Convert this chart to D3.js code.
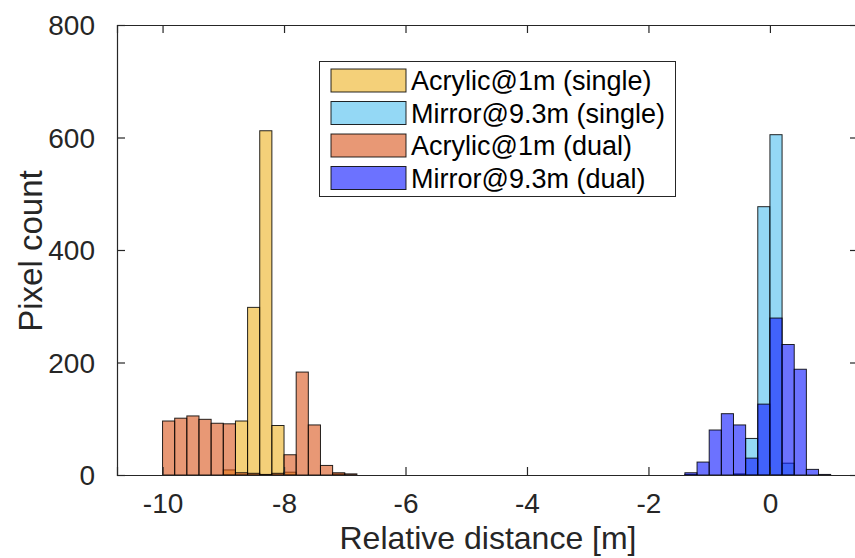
<!DOCTYPE html>
<html>
<head>
<meta charset="utf-8">
<script src="https://cdn.jsdelivr.net/npm/d3@7"></script>
<style>
  html, body { margin: 0; padding: 0; background: #fff; overflow: hidden; }
  text { font-family: Arial, "Liberation Sans", sans-serif; fill: #262626; }
</style>
</head>
<body>
<script>
// bin width of the histograms [m]
const binWidth = 0.2;

// left edges of the bins, with counts per series
const acrylicSingleBins = [-9.0, -8.8, -8.6, -8.4, -8.2, -8.0, -7.2];
const acrylicSingleCounts = [9, 96, 298, 612, 88, 5, 2];

const mirrorSingleBins = [-1.4, -0.6, -0.4, -0.2, 0.0, 0.2];
const mirrorSingleCounts = [1, 2, 65, 477, 605, 21];

const acrylicDualBins = [-10.0, -9.8, -9.6, -9.4, -9.2, -9.0, -8.8, -8.6, -8.4, -8.2, -8.0, -7.8, -7.6, -7.4, -7.2, -7.0];
const acrylicDualCounts = [96, 101, 105, 99, 92, 91, 4, 3, 1, 3, 36, 183, 89, 17, 4, 2];

const mirrorDualBins = [-1.4, -1.2, -1.0, -0.8, -0.6, -0.4, -0.2, 0.0, 0.2, 0.4, 0.6, 0.8];
const mirrorDualCounts = [4, 23, 80, 109, 89, 30, 126, 279, 232, 188, 10, 1];

const seriesNames = ["Acrylic@1m (single)", "Mirror@9.3m (single)", "Acrylic@1m (dual)", "Mirror@9.3m (dual)"];
const seriesColors = ["#edb120", "#4dbeee", "#d95319", "#0a14ff"];

const xTicks = [-10, -8, -6, -4, -2, 0];
const yTicks = [0, 200, 400, 600, 800];

// chart setup
const w = 855, h = 558;
const plot = { left: 117, right: 858, top: 25, bottom: 475 };

const svg = d3.select("body").append("svg")
    .attr("width", w)
    .attr("height", h);

const xScale = d3.scaleLinear()
    .domain([-10.75, 1.45])
    .range([plot.left, plot.right]);

const yScale = d3.scaleLinear()
    .domain([0, 800])
    .range([plot.bottom, plot.top]);

// bars, drawn in legend order with MATLAB style face alpha
const series = [
    [acrylicSingleBins, acrylicSingleCounts],
    [mirrorSingleBins, mirrorSingleCounts],
    [acrylicDualBins, acrylicDualCounts],
    [mirrorDualBins, mirrorDualCounts]
];

series.forEach(function (s, k) {
    const data = s[0].map((b, i) => ({ x0: b, x1: b + binWidth, n: s[1][i] }));
    svg.append("g")
        .selectAll("rect")
        .data(data)
        .enter()
        .append("rect")
        .attr("x", d => xScale(d.x0))
        .attr("y", d => yScale(d.n))
        .attr("width", d => xScale(d.x1) - xScale(d.x0))
        .attr("height", d => yScale(0) - yScale(d.n))
        .attr("fill", seriesColors[k])
        .attr("fill-opacity", 0.6)
        .attr("stroke", "#000")
        .attr("stroke-opacity", 0.85)
        .attr("stroke-width", 1);
});

// axes (ticks inward, box on)
const tickLen = 8;
const xAxis = d3.axisBottom(xScale).tickValues(xTicks).tickSize(-tickLen).tickPadding(18)
    .tickFormat(d => d < 0 ? "-" + Math.abs(d) : d);
const yAxis = d3.axisLeft(yScale).tickValues(yTicks).tickSize(-tickLen).tickPadding(22);

const xAxisG = svg.append("g")
    .attr("transform", `translate(0,${plot.bottom})`)
    .call(xAxis);
const yAxisG = svg.append("g")
    .attr("transform", `translate(${plot.left},0)`)
    .call(yAxis);
const xTopG = svg.append("g")
    .attr("transform", `translate(0,${plot.top})`)
    .call(d3.axisTop(xScale).tickValues(xTicks).tickSize(-tickLen).tickFormat(""));
const yRightG = svg.append("g")
    .attr("transform", `translate(${plot.right},0)`)
    .call(d3.axisRight(yScale).tickValues(yTicks).tickSize(-tickLen).tickFormat(""));

[xAxisG, yAxisG, xTopG, yRightG].forEach(function (g) {
    g.select(".domain").attr("stroke", "#262626").attr("stroke-width", 1.2);
    g.selectAll(".tick line").attr("stroke", "#262626").attr("stroke-width", 1.2);
    g.selectAll(".tick text")
        .attr("font-size", "28px")
        .attr("font-family", "Arial, 'Liberation Sans', sans-serif")
        .attr("fill", "#262626");
});
yAxisG.selectAll(".tick text").attr("dy", "0.35em");

// axis labels
svg.append("text")
    .attr("x", 488)
    .attr("y", 549)
    .attr("text-anchor", "middle")
    .attr("font-size", "32px")
    .text("Relative distance [m]");

svg.append("text")
    .attr("transform", "translate(42,251) rotate(-90)")
    .attr("text-anchor", "middle")
    .attr("font-size", "33px")
    .text("Pixel count");

// legend
const legend = svg.append("g");
legend.append("rect")
    .attr("x", 319.5).attr("y", 61.5)
    .attr("width", 356).attr("height", 135)
    .attr("fill", "#fff")
    .attr("stroke", "#262626")
    .attr("stroke-width", 1);

seriesNames.forEach(function (name, i) {
    const y = 69 + i * 32.5;
    legend.append("rect")
        .attr("x", 331).attr("y", y)
        .attr("width", 75).attr("height", 23)
        .attr("fill", seriesColors[i])
        .attr("fill-opacity", 0.6)
        .attr("stroke", "#000")
        .attr("stroke-opacity", 0.85);
    legend.append("text")
        .attr("x", 411)
        .attr("y", y + 21)
        .attr("font-size", "27px")
        .attr("fill", "#000")
        .style("fill", "#000")
        .text(name);
});
</script>
</body>
</html>
